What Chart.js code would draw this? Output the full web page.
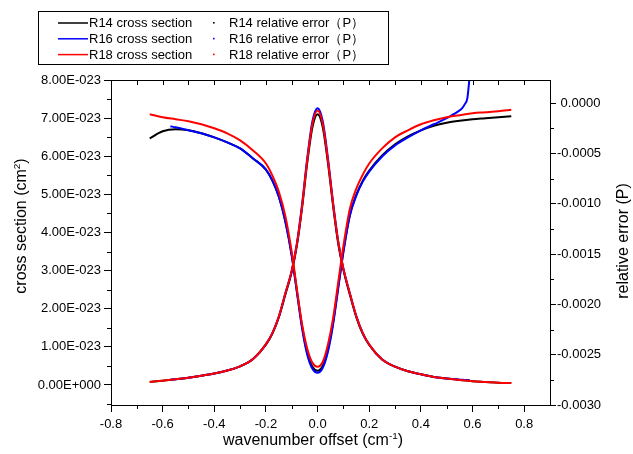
<!DOCTYPE html>
<html>
<head>
<meta charset="utf-8">
<script src="https://cdn.jsdelivr.net/npm/chart.js@4.4.1/dist/chart.umd.min.js"></script>
<style>
  html, body { margin: 0; padding: 0; background: #fff; }
</style>
</head>
<body>
<canvas id="chart" width="633" height="454"></canvas>
<script>
// wavenumber offset grids (cm-1)
const offsetR14 = [-0.65,-0.6,-0.55,-0.5,-0.45,-0.4,-0.35,-0.3,-0.25,-0.2,-0.175,-0.15,-0.125,-0.1,-0.08,-0.06,-0.04,-0.02,0,0.02,0.04,0.06,0.08,0.1,0.125,0.15,0.175,0.2,0.25,0.3,0.35,0.4,0.45,0.5,0.55,0.6,0.65,0.7,0.75];
const offsetR18 = offsetR14;
const offsetR16 = [-0.57,-0.55,-0.5,-0.45,-0.4,-0.35,-0.3,-0.25,-0.2,-0.175,-0.15,-0.125,-0.1,-0.08,-0.06,-0.04,-0.02,0,0.02,0.04,0.06,0.08,0.1,0.125,0.15,0.175,0.2,0.25,0.3,0.35,0.4,0.45,0.5,0.52,0.54,0.56,0.57,0.58,0.59];

// cross sections, in units of 1E-23 cm2
const crossR14 = [0.08,0.11,0.15,0.19,0.24,0.3,0.38,0.49,0.68,1.06,1.35,1.78,2.37,2.97,3.66,4.65,5.83,6.76,7.1,6.76,5.83,4.7,3.7,3.02,2.37,1.78,1.34,1.05,0.67,0.48,0.36,0.28,0.21,0.17,0.13,0.1,0.08,0.06,0.05];
const crossR16 = [0.14,0.15,0.19,0.24,0.3,0.38,0.49,0.68,1.07,1.36,1.79,2.4,3.0,3.72,4.74,5.95,6.92,7.26,6.92,5.95,4.78,3.76,3.05,2.4,1.8,1.36,1.06,0.67,0.48,0.36,0.28,0.21,0.17,0.16,0.15,0.14,0.13,0.13,0.12];
const crossR18 = [0.08,0.11,0.15,0.19,0.24,0.3,0.38,0.49,0.68,1.07,1.36,1.8,2.4,3.0,3.7,4.7,5.9,6.85,7.2,6.85,5.9,4.75,3.75,3.05,2.4,1.8,1.36,1.06,0.67,0.48,0.36,0.28,0.21,0.17,0.13,0.1,0.08,0.06,0.05];

// relative errors (P)
const errR14 = [-0.00035,-0.00028,-0.00026,-0.00027,-0.0003,-0.00034,-0.00039,-0.00045,-0.00055,-0.00066,-0.00077,-0.00093,-0.00117,-0.00151,-0.00187,-0.00222,-0.00248,-0.00262,-0.00266,-0.00261,-0.00245,-0.00218,-0.00182,-0.00147,-0.00111,-0.00091,-0.00077,-0.00067,-0.00052,-0.00041,-0.00033,-0.00027,-0.000225,-0.000195,-0.000175,-0.00016,-0.00015,-0.00014,-0.00013];
const errR16 = [-0.00023,-0.00024,-0.00027,-0.0003,-0.00034,-0.00039,-0.00045,-0.00055,-0.00066,-0.00077,-0.00093,-0.00118,-0.00152,-0.00188,-0.00224,-0.0025,-0.00264,-0.00268,-0.00263,-0.00247,-0.0022,-0.00184,-0.00148,-0.00112,-0.00092,-0.00078,-0.00068,-0.00053,-0.00042,-0.00034,-0.00027,-0.00021,-0.00015,-0.00012,-0.00009,-0.00005,-0.00001,0.00005,0.0003];
const errR18 = [-0.00011,-0.00014,-0.00016,-0.00018,-0.00021,-0.00025,-0.0003,-0.00037,-0.00047,-0.0006,-0.00072,-0.00088,-0.00112,-0.00148,-0.00185,-0.0022,-0.00244,-0.00258,-0.00262,-0.00257,-0.0024,-0.00214,-0.00178,-0.00142,-0.00105,-0.00085,-0.00071,-0.0006,-0.00045,-0.00034,-0.00027,-0.00021,-0.00017,-0.00014,-0.00012,-0.0001,-0.00009,-0.00008,-0.000065];

// tick labels
const xTicks = [-0.8,-0.6,-0.4,-0.2,0,0.2,0.4,0.6,0.8];
const crossTicks = [0,1,2,3,4,5,6,7,8];          // x 1E-23
const errTicks = [-0.003,-0.0025,-0.002,-0.0015,-0.001,-0.0005,0];

const FONT = '"Liberation Sans", Arial, Helvetica, sans-serif';

function pairs(xs, ys, k) {
  return xs.map((x, i) => ({ x: x, y: ys[i] * (k || 1) }));
}

function sci(v) {
  if (Math.abs(v) < 1e-40) return '0.00E+000';
  const parts = v.toExponential(2).split('e');
  const n = parseInt(parts[1], 10);
  return parts[0] + 'E' + (n < 0 ? '-' : '+') + String(Math.abs(n)).padStart(3, '0');
}

function errLabel(v) {
  if (Math.abs(v) < 1e-9) return ' 0.0000';
  return v.toFixed(4);
}

function line(ctx, x1, y1, x2, y2) {
  ctx.beginPath();
  ctx.moveTo(x1, y1);
  ctx.lineTo(x2, y2);
  ctx.stroke();
}

// text with a superscript part
function richText(ctx, parts, cx, cy, size) {
  let total = 0;
  parts.forEach(p => {
    ctx.font = (p.sup ? size * 0.62 : size) + 'px ' + FONT;
    p.w = ctx.measureText(p.t).width;
    total += p.w;
  });
  let x = cx - total / 2;
  ctx.textAlign = 'left';
  ctx.textBaseline = 'middle';
  parts.forEach(p => {
    ctx.font = (p.sup ? size * 0.62 : size) + 'px ' + FONT;
    ctx.fillText(p.t, x, p.sup ? cy - size * 0.32 : cy);
    x += p.w;
  });
}

const decor = {
  id: 'decor',
  afterDraw(chart) {
    const { ctx, chartArea: a, scales } = chart;
    ctx.save();
    ctx.strokeStyle = '#000';
    ctx.fillStyle = '#000';
    ctx.lineWidth = 1;
    const r = v => Math.round(v) + 0.5;

    // top frame with inward ticks
    line(ctx, a.left, r(a.top), a.right, r(a.top));
    for (let k = -7; k <= 8; k++) {
      const x = r(scales.x.getPixelForValue(k / 10));
      line(ctx, x, a.top, x, a.top + 5);
    }
    // minor ticks
    for (let k = -7; k <= 7; k += 2) {
      const x = r(scales.x.getPixelForValue(k / 10));
      line(ctx, x, a.bottom, x, a.bottom + 4);
    }
    for (let k = -1; k <= 15; k += 2) {
      const y = r(scales.y.getPixelForValue(k * 0.5e-23));
      line(ctx, a.left - 4, y, a.left, y);
    }
    for (let k = 1; k <= 11; k += 2) {
      const y = r(scales.y2.getPixelForValue(-k * 0.00025));
      line(ctx, a.right, y, a.right + 4, y);
    }

    // axis titles
    richText(ctx, [{ t: 'wavenumber offset (cm' }, { t: '-1', sup: true }, { t: ')' }], 313, 441, 16);
    ctx.save();
    ctx.translate(22, 226);
    ctx.rotate(-Math.PI / 2);
    richText(ctx, [{ t: 'cross section (cm' }, { t: '2', sup: true }, { t: ')' }], 0, 0, 16);
    ctx.restore();
    ctx.save();
    ctx.translate(624, 241);
    ctx.rotate(-Math.PI / 2);
    richText(ctx, [{ t: 'relative error (P)' }], 0, 0, 16);
    ctx.restore();

    // legend
    ctx.strokeRect(38.5, 11.5, 350, 53);
    const rows = [
      { c: '#000000', a: 'R14 cross section', b: 'R14 relative error\uFF08P\uFF09' },
      { c: '#0000ff', a: 'R16 cross section', b: 'R16 relative error\uFF08P\uFF09' },
      { c: '#ff0000', a: 'R18 cross section', b: 'R18 relative error\uFF08P\uFF09' }
    ];
    ctx.font = '13px ' + FONT;
    ctx.textAlign = 'left';
    ctx.textBaseline = 'middle';
    rows.forEach((row, i) => {
      const y = 23 + i * 15.8;
      ctx.strokeStyle = row.c;
      ctx.lineWidth = 1.5;
      line(ctx, 58, y, 88, y);
      ctx.fillStyle = row.c;
      ctx.fillRect(213, y - 1, 1.6, 1.6);
      ctx.fillStyle = '#000';
      ctx.fillText(row.a, 89, y + 0.5);
      ctx.fillText(row.b, 229, y + 0.5);
    });
    ctx.restore();
  }
};

function series(label, data, color, axis, order) {
  return {
    label: label,
    data: data,
    yAxisID: axis,
    borderColor: color,
    backgroundColor: color,
    borderWidth: 2,
    pointRadius: 0,
    fill: false,
    cubicInterpolationMode: 'monotone',
    order: order
  };
}

const axisGrid = { drawOnChartArea: false, drawTicks: true, tickLength: 7, color: '#000' };
const axisBorder = { display: true, color: '#000', width: 1 };
const tickFont = { family: FONT, size: 13 };

new Chart(document.getElementById('chart').getContext('2d'), {
  type: 'line',
  data: {
    datasets: [
      series('R18 relative error (P)', pairs(offsetR18, errR18), '#ff0000', 'y2', 0),
      series('R18 cross section', pairs(offsetR18, crossR18, 1e-23), '#ff0000', 'y', 1),
      series('R16 relative error (P)', pairs(offsetR16, errR16), '#0000ff', 'y2', 2),
      series('R16 cross section', pairs(offsetR16, crossR16, 1e-23), '#0000ff', 'y', 3),
      series('R14 relative error (P)', pairs(offsetR14, errR14), '#000000', 'y2', 4),
      series('R14 cross section', pairs(offsetR14, crossR14, 1e-23), '#000000', 'y', 5)
    ]
  },
  options: {
    responsive: false,
    animation: false,
    devicePixelRatio: 1,
    layout: { padding: { top: 80, left: 0, right: 0, bottom: 0 } },
    plugins: { legend: { display: false }, tooltip: { enabled: false } },
    scales: {
      x: {
        type: 'linear',
        position: 'bottom',
        min: -0.8,
        max: 0.9,
        afterBuildTicks: s => { s.ticks = xTicks.map(v => ({ value: v })); },
        afterFit: s => { s.height = 49; },
        ticks: { callback: v => v.toFixed(1), color: '#000', font: tickFont, padding: 5, maxRotation: 0, autoSkip: false },
        grid: axisGrid,
        border: axisBorder
      },
      y: {
        type: 'linear',
        position: 'left',
        min: -0.525e-23,
        max: 8e-23,
        afterBuildTicks: s => { s.ticks = crossTicks.map(v => ({ value: v * 1e-23 })); },
        afterFit: s => { s.width = 111; },
        ticks: { callback: v => sci(v), color: '#000', font: tickFont, padding: 3, autoSkip: false },
        grid: axisGrid,
        border: axisBorder
      },
      y2: {
        type: 'linear',
        position: 'right',
        min: -0.003,
        max: 0.00023,
        afterBuildTicks: s => { s.ticks = errTicks.map(v => ({ value: v })); },
        afterFit: s => { s.width = 83; },
        ticks: { callback: v => errLabel(v), color: '#000', font: tickFont, padding: 1, crossAlign: 'near', autoSkip: false },
        grid: { drawOnChartArea: false, drawTicks: true, tickLength: 6, color: '#000' },
        border: axisBorder
      }
    }
  },
  plugins: [decor]
});
</script>
</body>
</html>
